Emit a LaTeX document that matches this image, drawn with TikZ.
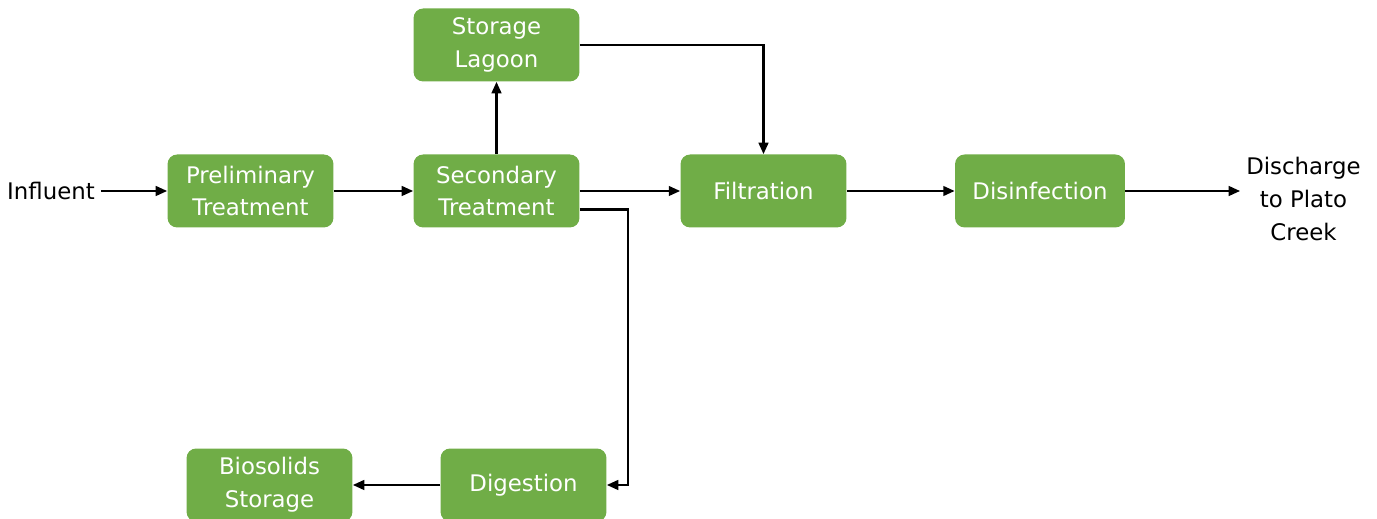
\documentclass[tikz,border=0pt]{standalone}
\usepackage{fontspec}
\setmainfont{DejaVu Sans}
\usepackage{xcolor}
\definecolor{boxgreen}{RGB}{112,173,71}
\usetikzlibrary{arrows.meta}

\begin{document}
\begin{tikzpicture}[x=0.02cm, y=-0.02cm,
  unit/.style={fill=boxgreen, rounded corners=5.5pt, minimum width=3.32cm, minimum height=1.46cm,
    align=center, text=white, inner sep=0pt, font=\fontsize{13}{18.7}\selectfont},
  ends/.style={align=center, font=\fontsize{13}{18.7}\selectfont},
  flow/.style={-{Triangle[length=6.5pt,width=5.5pt]}, line width=1.3pt}]
			\useasboundingbox (0,0) rectangle (1377,519);

			% Treatment units
			\node[unit] (lagoon) at (496.5,45) {Storage\\Lagoon};
			\node[unit] (prelim) at (250.5,191) {Preliminary\\Treatment};
			\node[unit] (second) at (496.5,191) {Secondary\\Treatment};
			\node[unit] (filter) at (763.5,191) {Filtration};
			\node[unit, minimum width=3.4cm] (disinf) at (1040,191) {Disinfection};
			\node[unit] (digest) at (523.5,485) {Digestion};
			\node[unit] (biosol) at (269.5,485) {Biosolids\\Storage};

			% Inflow and outflow
			\node[ends] (influent) at (51,191) {Influent};
			\node[ends] (discharge) at (1303.5,199) {Discharge\\to Plato\\Creek};

			% Liquid stream
			\draw[flow] (influent) -- (prelim);
			\draw[flow] (prelim) -- (second);
			\draw[flow] (second) -- (lagoon);
			\draw[flow] (second.east) -- (filter.west);
			\draw[flow] (lagoon.east) -| (filter.north);
			\draw[flow] (filter) -- (disinf);
			\draw[flow] (disinf.east) -- (disinf.east -| discharge.west);

			% Solids stream
			\draw[flow] ([yshift=-0.37cm]second.east) -- ++(48,0) |- (digest.east);
			\draw[flow] (digest) -- (biosol);
		\end{tikzpicture}
\end{document}
